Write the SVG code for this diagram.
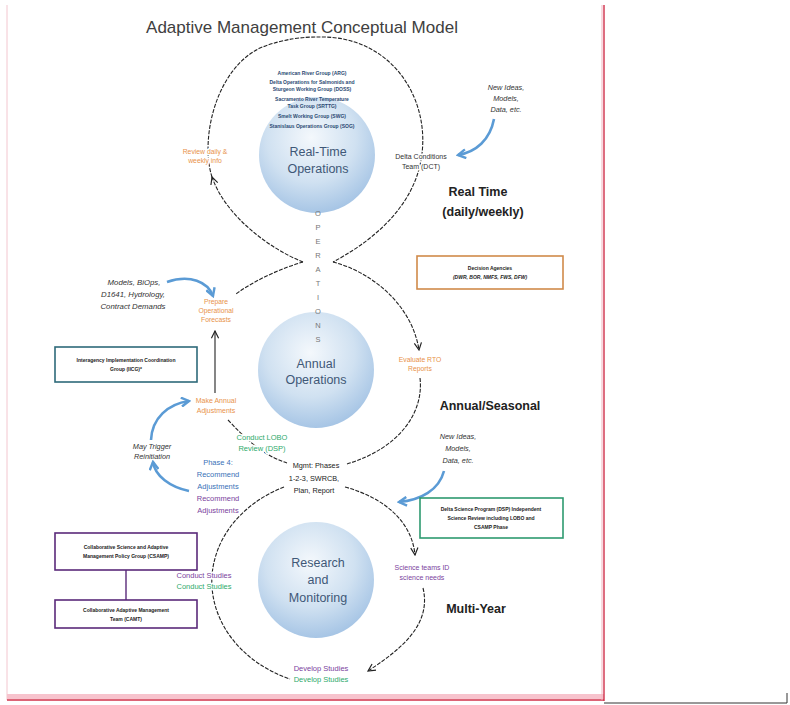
<svg xmlns="http://www.w3.org/2000/svg" width="790" height="705" viewBox="0 0 790 705">
<style>
text{font-family:"Liberation Sans",Arial,sans-serif;text-anchor:middle}
.h{stroke:#fff;stroke-width:3;stroke-linejoin:round;paint-order:stroke}
.loop{fill:none;stroke:#222;stroke-width:1.1;stroke-dasharray:4 1.4}
.solid{fill:none;stroke:#222;stroke-width:1.1}
.blue{fill:none;stroke:#5b9bd5;stroke-width:2.6}
.org{fill:#e8924a;font-size:6.8px}
.grn{fill:#2eaa6b}
.pur{fill:#7b3f9e}
.blu{fill:#3a72b8}
.lst{fill:#2b4a73;font-size:5px;font-weight:bold}
.ctr{fill:#3f5877;font-size:12.5px}
.big{fill:#222;font-size:12.5px;font-weight:bold}
.it{fill:#333;font-style:italic}
.bx{font-size:5px;font-weight:bold;fill:#222}
</style>
<defs>
<radialGradient id="cg" cx="0.45" cy="0.35" r="0.7">
<stop offset="0" stop-color="#f4f8fc"/>
<stop offset="0.55" stop-color="#d0e1f1"/>
<stop offset="1" stop-color="#9fc0e3"/>
</radialGradient>
<marker id="ah" viewBox="0 0 10 10" refX="9" refY="5" markerWidth="9" markerHeight="9" markerUnits="userSpaceOnUse" orient="auto">
<path d="M1,1 L9,5 L1,9" fill="none" stroke="#222" stroke-width="1.3" stroke-dasharray="none"/>
</marker>
<marker id="bh" viewBox="0 0 10 10" refX="8" refY="5" markerWidth="11" markerHeight="11" markerUnits="userSpaceOnUse" orient="auto">
<path d="M1,1 L8,5 L1,9" fill="none" stroke="#5b9bd5" stroke-width="2.2" stroke-dasharray="none"/>
</marker>
</defs>
<rect width="790" height="705" fill="#fff"/>
<g id="frame">
<line x1="7" y1="5" x2="7" y2="700" stroke="#f3c6cf" stroke-width="1"/>
<rect x="7" y="694" width="597" height="5" fill="#f7c3cd"/>
<line x1="7" y1="700" x2="604" y2="700" stroke="#d0304a" stroke-width="1.4"/>
<line x1="604" y1="5" x2="604" y2="701" stroke="#d0304a" stroke-width="1.4"/>
<line x1="602" y1="5" x2="602" y2="700" stroke="#f3b5c1" stroke-width="1"/>
<path d="M604,703 L787,703 L787,693" fill="none" stroke="#333" stroke-width="1"/>
</g>
<text id="title" x="302" y="33" style="font-size:17px;fill:#404040">Adaptive Management Conceptual Model</text>
<g id="circles">
<circle cx="317" cy="155" r="58" fill="url(#cg)"/>
<circle cx="316" cy="370" r="58" fill="url(#cg)"/>
<circle cx="316" cy="580" r="58" fill="url(#cg)"/>
</g>
<g id="connectors">
<path class="loop" d="M303,262 C268,248 225,215 212,177" marker-end="url(#ah)"/>
<path class="loop" d="M212,177 C200,140 215,70 260,48 C285,38 305,37 318,37 C392,35 432,100 421,160 C412,212 365,245 333,262"/>
<path class="loop" d="M303,262 C282,268 255,280 236,294"/>
<path class="solid" d="M215,393 L215,331" marker-end="url(#ah)"/>
<path class="loop" d="M228,420 C245,438 262,455 287,463"/>
<path class="loop" d="M333,262 C372,272 412,305 419,350" marker-end="url(#ah)"/>
<path class="loop" d="M420,378 C424,412 400,448 347,464"/>
<path class="loop" d="M284,487 C250,500 216,530 212,575 C209,620 240,662 290,679"/>
<path class="loop" d="M345,487 C385,498 412,522 415,555" marker-end="url(#ah)"/>
<path class="loop" d="M423,588 C432,625 400,650 368,671" marker-end="url(#ah)"/>
<path class="blue" d="M494,119 C490,140 476,152 458,155" marker-end="url(#bh)"/>
<path class="blue" d="M167,282 C190,274 208,282 213,296" marker-end="url(#bh)"/>
<path class="blue" d="M151,440 C152,418 168,404 189,401" marker-end="url(#bh)"/>
<path class="blue" d="M189,491 C170,487 155,476 153,462" marker-end="url(#bh)"/>
<path class="blue" d="M444,471 C439,490 421,500 399,502" marker-end="url(#bh)"/>
</g>
<g id="rto">
<text class="lst" x="312" y="75">American River Group (ARG)</text>
<text class="lst" x="312" y="84">Delta Operations for Salmonids and</text>
<text class="lst" x="312" y="91">Sturgeon Working Group (DOSS)</text>
<text class="lst" x="312" y="101">Sacramento River Temperature</text>
<text class="lst" x="312" y="108">Task Group (SRTTG)</text>
<text class="lst" x="312" y="118">Smelt Working Group (SWG)</text>
<text class="lst" x="312" y="128">Stanislaus Operations Group (SOG)</text>
<text class="ctr" x="318" y="156">Real-Time</text>
<text class="ctr" x="318" y="173">Operations</text>
</g>
<g id="review"><text class="org h" x="205" y="154">Review daily &amp;</text><text class="org h" x="205" y="163">weekly info</text></g>
<g id="dct"><text class="h" x="421" y="159" style="font-size:7px;fill:#333">Delta Conditions</text><text class="h" x="421" y="169" style="font-size:7px;fill:#333">Team (DCT)</text></g>
<g id="ideas1"><text class="it" x="506" y="90" style="font-size:7.3px">New Ideas,</text><text class="it" x="506" y="101" style="font-size:7.3px">Models,</text><text class="it" x="506" y="112" style="font-size:7.3px">Data, etc.</text></g>
<g id="realtime"><text class="big" x="478" y="196">Real Time</text><text class="big" x="483" y="216">(daily/weekly)</text></g>
<g id="ops">
<text x="318" y="216" style="font-size:7.5px;fill:#777">O</text>
<text x="318" y="230" style="font-size:7.5px;fill:#777">P</text>
<text x="318" y="244" style="font-size:7.5px;fill:#777">E</text>
<text x="318" y="258" style="font-size:7.5px;fill:#777">R</text>
<text x="318" y="272" style="font-size:7.5px;fill:#777">A</text>
<text x="318" y="286" style="font-size:7.5px;fill:#777">T</text>
<text x="318" y="300" style="font-size:7.5px;fill:#777">I</text>
<text x="318" y="314" style="font-size:7.5px;fill:#777">O</text>
<text x="318" y="328" style="font-size:7.5px;fill:#777">N</text>
<text x="318" y="342" style="font-size:7.5px;fill:#777">S</text>
</g>
<g id="agencies">
<rect x="417" y="256" width="146" height="33" fill="#fff" stroke="#d08a4a" stroke-width="1.6"/>
<text class="bx" x="490" y="270">Decision Agencies</text>
<text class="bx" x="490" y="279" style="font-style:italic">(DWR, BOR, NMFS, FWS, DFW)</text>
</g>
<g id="models"><text class="it" x="134" y="285" style="font-size:7.8px">Models, BiOps,</text><text class="it" x="133" y="297" style="font-size:7.8px">D1641, Hydrology,</text><text class="it" x="133" y="309" style="font-size:7.8px">Contract Demands</text></g>
<g id="prepare"><text class="org h" x="216" y="304">Prepare</text><text class="org h" x="216" y="313">Operational</text><text class="org h" x="216" y="322">Forecasts</text></g>
<g id="annual"><text class="ctr" x="316" y="368">Annual</text><text class="ctr" x="316" y="384">Operations</text></g>
<g id="evaluate"><text class="org h" x="420" y="362">Evaluate RTO</text><text class="org h" x="420" y="371">Reports</text></g>
<g id="iicg">
<rect x="55" y="347" width="142" height="35" fill="#fff" stroke="#2e6a7a" stroke-width="1.6"/>
<text class="bx" x="126" y="362">Interagency Implementation Coordination</text>
<text class="bx" x="126" y="371">Group (IICG)*</text>
</g>
<g id="make"><text class="org h" x="216" y="403" style="font-size:7px">Make Annual</text><text class="org h" x="216" y="413" style="font-size:7px">Adjustments</text></g>
<g id="seasonal"><text class="big" x="490" y="410">Annual/Seasonal</text></g>
<g id="lobo"><text class="grn h" x="262" y="440" style="font-size:7.5px">Conduct LOBO</text><text class="grn h" x="262" y="451" style="font-size:7.5px">Review (DSP)</text></g>
<g id="trigger"><text class="it" x="152" y="449" style="font-size:7.3px">May Trigger</text><text class="it" x="152" y="459" style="font-size:7.3px">Reinitiation</text></g>
<g id="phase4">
<text class="blu h" x="218" y="465" style="font-size:7.5px">Phase 4:</text>
<text class="blu h" x="218" y="477" style="font-size:7.5px">Recommend</text>
<text class="blu h" x="218" y="489" style="font-size:7.5px">Adjustments</text>
<text class="pur h" x="218" y="501" style="font-size:7.5px">Recommend</text>
<text class="pur h" x="218" y="513" style="font-size:7.5px">Adjustments</text>
</g>
<g id="mgmt">
<text class="h" x="316" y="468" style="font-size:7.3px;fill:#222">Mgmt: Phases</text>
<text class="h" x="314" y="481" style="font-size:7.3px;fill:#222">1-2-3, SWRCB,</text>
<text class="h" x="314" y="493" style="font-size:7.3px;fill:#222">Plan, Report</text>
</g>
<g id="ideas2"><text class="it" x="458" y="439" style="font-size:7.3px">New Ideas,</text><text class="it" x="458" y="451" style="font-size:7.3px">Models,</text><text class="it" x="458" y="463" style="font-size:7.3px">Data, etc.</text></g>
<g id="dsp">
<rect x="420" y="498" width="143" height="40" fill="#fff" stroke="#2e9a70" stroke-width="1.6"/>
<text class="bx" x="491" y="511">Delta Science Program (DSP) Independent</text>
<text class="bx" x="491" y="520">Science Review including LOBO and</text>
<text class="bx" x="491" y="529">CSAMP Phase</text>
</g>
<g id="csamp">
<rect x="55" y="533" width="142" height="37" fill="#fff" stroke="#5a2a7a" stroke-width="1.6"/>
<text class="bx" x="126" y="549">Collaborative Science and Adaptive</text>
<text class="bx" x="126" y="558">Management Policy Group (CSAMP)</text>
</g>
<line x1="126" y1="570" x2="126" y2="600" stroke="#5a2a7a" stroke-width="1.4"/>
<g id="camt">
<rect x="55" y="600" width="142" height="28" fill="#fff" stroke="#5a2a7a" stroke-width="1.6"/>
<text class="bx" x="126" y="612">Collaborative Adaptive Management</text>
<text class="bx" x="126" y="621">Team (CAMT)</text>
</g>
<g id="studies"><text class="pur h" x="204" y="578" style="font-size:7.5px">Conduct Studies</text><text class="grn h" x="204" y="589" style="font-size:7.5px">Conduct Studies</text></g>
<g id="research"><text class="ctr" x="318" y="567">Research</text><text class="ctr" x="318" y="584">and</text><text class="ctr" x="318" y="602">Monitoring</text></g>
<g id="needs"><text class="pur h" x="422" y="570" style="font-size:7px">Science teams ID</text><text class="pur h" x="422" y="580" style="font-size:7px">science needs</text></g>
<g id="multiyear"><text class="big" x="476" y="613">Multi-Year</text></g>
<g id="develop"><text class="pur h" x="321" y="671" style="font-size:7.5px">Develop Studies</text><text class="grn h" x="321" y="682" style="font-size:7.5px">Develop Studies</text></g>
</svg>
